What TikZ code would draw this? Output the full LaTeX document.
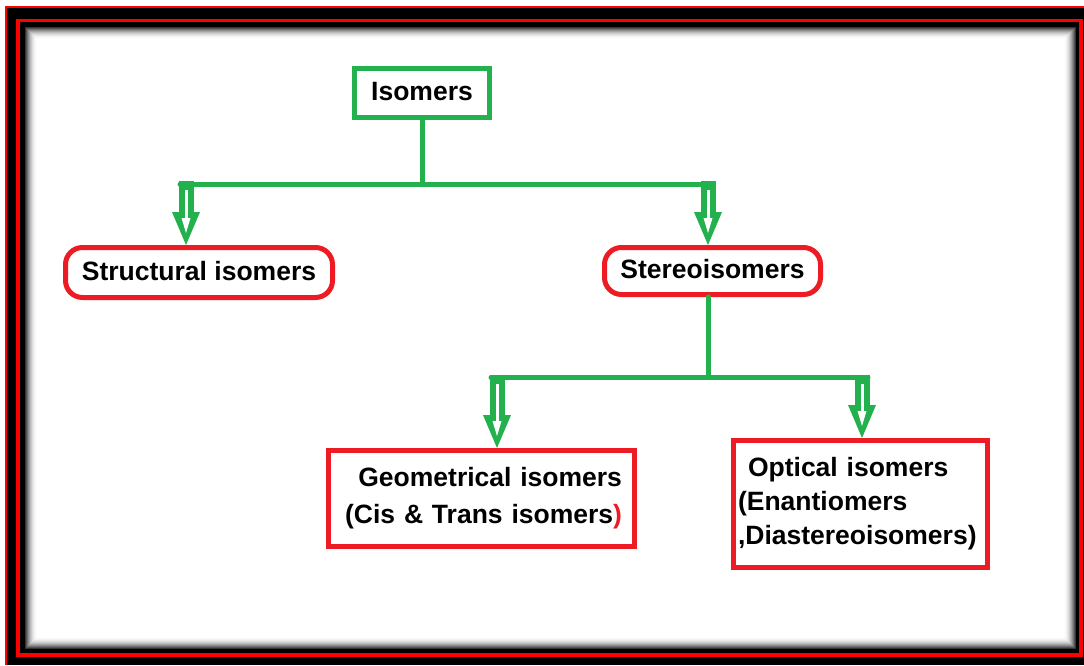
\documentclass[tikz,border=0pt]{standalone}
\usepackage{fontspec}
\setmainfont{Liberation Sans}
\usetikzlibrary{calc}
\definecolor{pgreen}{RGB}{34,177,76}
\definecolor{pred}{RGB}{237,28,36}
\newcommand\hollowarrow[2]{%
  \coordinate (ha-tip) at (#2);
  \coordinate (ha-top) at (#2 |- #1);
  \fill[pgreen] ($(ha-tip)+(-14,-33)$) -- ($(ha-tip)+(14,-33)$) -- (ha-tip) -- cycle;
  \fill[pgreen] ($(ha-top)+(-7.5,-3)$) rectangle ($(ha-tip)+(7.5,-32)$);
  \fill[white] ($(ha-top)+(-1.5,6)$) rectangle ($(ha-tip)+(1.5,-22)$);
  \fill[white] ($(ha-tip)+(-4.5,-27)$) -- ($(ha-tip)+(4.5,-27)$) -- ($(ha-tip)+(0,-12)$) -- cycle;
}
\begin{document}
\begin{tikzpicture}[x=1pt,y=-1pt,
  every node/.style={font=\fontsize{26.5}{34}\selectfont\bfseries},
  greenbox/.style={draw=pgreen,line width=5pt,inner sep=0pt,text depth=4pt},
  roundbox/.style={draw=pred,line width=5pt,rounded corners=17pt,inner sep=0pt,text depth=4pt},
  redbox/.style={draw=pred,line width=5pt,inner ysep=0pt},
  conn/.style={draw=pgreen,line width=5pt,line cap=round}]
\useasboundingbox (0,0) rectangle (1084,665);
% frame
\fill[white] (0,0) rectangle (1084,665);
\fill[black] (6,7) rectangle (1084,665);
\draw[red,line width=2pt] (6,665) -- (6,7) -- (1084,7);
\draw[red,line width=3.5pt] (18,20.5) rectangle (1081,655);
\foreach \i in {0,...,11}{
  \pgfmathsetmacro\g{80*(1-\i/12)*(1-\i/12)}
  \fill[black!\g!white] (25+\i,27+\i) rectangle (1076-\i,649-\i);
}
\fill[white] (37,39) rectangle (1064,637);
% nodes
\node[greenbox,minimum width=135pt,minimum height=49pt] (iso) at (422,93) {Isomers};
\node[roundbox,minimum width=267pt,minimum height=50pt] (struct) at (199,272.5) {Structural isomers};
\node[roundbox,minimum width=216pt,minimum height=47pt] (stereo) at (712.5,271) {Stereoisomers};
\node[redbox,minimum width=306pt,minimum height=96pt,text width=281pt,align=right,inner xsep=12.5pt,
  font=\fontsize{26.5}{37}\selectfont\bfseries] (geo) at (481.5,498.5)
  {Geometrical isomers\\(Cis \& Trans isomers\textcolor{pred}{)}};
\node[redbox,minimum width=254pt,minimum height=127pt,text width=245pt,align=left,inner xsep=4.5pt] (opt) at (860.5,504)
  {\hspace*{10pt}Optical isomers\\(Enantiomers\\,Diastereoisomers)};
% connectors
\coordinate (bus1) at (421,184);
\coordinate (t1) at ([xshift=-13pt]struct.north);
\coordinate (t2) at ([xshift=-4.5pt]stereo.north);
\draw[conn] (iso.south) -- (iso.south |- bus1);
\draw[conn] ($(t1|-bus1)+(-6,0)$) -- ($(t2|-bus1)+(4,0)$);
\hollowarrow{bus1}{t1}
\hollowarrow{bus1}{t2}
\coordinate (bus2) at (708,377.5);
\coordinate (t3) at ([xshift=15.5pt]geo.north);
\coordinate (t4) at ([xshift=1.5pt]opt.north);
\draw[conn] (t2 |- stereo.south) -- (t2 |- bus2);
\draw[conn] ($(t3|-bus2)+(-6,0)$) -- ($(t4|-bus2)+(6,0)$);
\hollowarrow{bus2}{t3}
\hollowarrow{bus2}{t4}
\end{tikzpicture}
\end{document}
